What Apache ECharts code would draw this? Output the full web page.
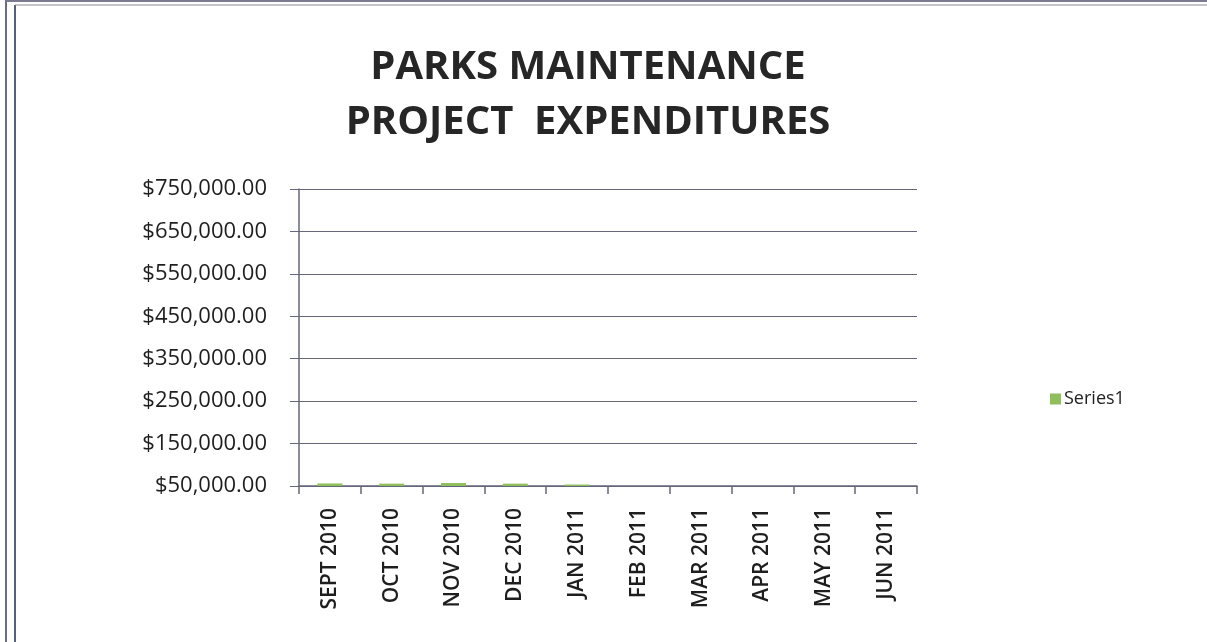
<!DOCTYPE html>
<html>
<head>
<meta charset="utf-8">
<title>Parks Maintenance Project Expenditures</title>
<script src="https://cdn.jsdelivr.net/npm/echarts@6/dist/echarts.min.js"></script>
<style>
  html, body { margin: 0; padding: 0; background: #fff; }
  #chart { width: 1207px; height: 642px; }
</style>
</head>
<body>
<div id="chart"></div>
<script>
// 月份
const months = ['SEPT 2010', 'OCT 2010', 'NOV 2010', 'DEC 2010', 'JAN 2011',
  'FEB 2011', 'MAR 2011', 'APR 2011', 'MAY 2011', 'JUN 2011'];
// 支出（只比坐标轴最小值高一点，所以只露出一条细线）
const series1 = [56000, 55500, 57000, 55500, 53500, null, null, null, null, null];
// 纵轴刻度
const yMin = 50000;
const yMax = 750000;
const yStep = 100000;

const green = '#8fbf5c';
const gridColor = '#66667a';
const font = '"Open Sans", "Noto Sans", sans-serif';

const mychart = echarts.init(document.getElementById('chart'));

const option = {
  animation: false,
  backgroundColor: '#ffffff',
  graphic: [
    // 外框（双线）
    { type: 'line', shape: { x1: 6, y1: 0, x2: 6, y2: 642 }, style: { stroke: '#6d6d80', lineWidth: 2 } },
    { type: 'line', shape: { x1: 15, y1: 5, x2: 15, y2: 642 }, style: { stroke: '#55607a', lineWidth: 2 } },
    { type: 'line', shape: { x1: 6, y1: 1, x2: 1207, y2: 1 }, style: { stroke: '#7a7a90', lineWidth: 2 } },
    { type: 'line', shape: { x1: 15, y1: 5, x2: 1207, y2: 5 }, style: { stroke: '#8a8aa0', lineWidth: 1 } },
    // 标题
    {
      type: 'text',
      x: 588,
      y: 95,
      style: {
        text: 'PARKS MAINTENANCE\nPROJECT  EXPENDITURES',
        fill: '#262626',
        font: 'bold 40px ' + font,
        textAlign: 'center',
        textVerticalAlign: 'middle',
        lineHeight: 55,
      },
    },
  ],
  legend: {
    data: ['Series1'],
    left: 1045,
    top: 385,
    itemWidth: 11,
    itemHeight: 11,
    itemGap: 4,
    icon: 'rect',
    textStyle: { color: '#222', fontSize: 18, fontFamily: font, padding: [0, 0, 0, -2] },
  },
  grid: {
    left: 299,
    right: 290,
    top: 189,
    bottom: 156,
  },
  xAxis: {
    type: 'category',
    data: months,
    axisLine: { show: true, lineStyle: { color: gridColor, width: 1.5 } },
    axisTick: { show: true, length: 8, lineStyle: { color: gridColor, width: 1.5 } },
    axisLabel: {
      rotate: 90,
      interval: 0,
      margin: 22,
      color: '#1e1e1e',
      fontSize: 21,
      fontWeight: 600,
      fontFamily: font,
    },
  },
  yAxis: {
    type: 'value',
    min: yMin,
    max: yMax,
    interval: yStep,
    axisLine: { show: true, lineStyle: { color: gridColor, width: 1.5 } },
    axisTick: { show: true, length: 9, lineStyle: { color: gridColor } },
    splitLine: { show: true, lineStyle: { color: gridColor, width: 1.2 } },
    axisLabel: {
      margin: 32,
      color: '#1e1e1e',
      fontSize: 22,
      fontFamily: font,
      formatter: (v) => '$' + v.toLocaleString('en-US', { minimumFractionDigits: 2, maximumFractionDigits: 2 }),
    },
  },
  series: [
    {
      name: 'Series1',
      type: 'bar',
      data: series1,
      barWidth: 25,
      itemStyle: { color: green },
    },
  ],
};

mychart.setOption(option);

window.addEventListener('resize', () => {
  mychart.resize();
});
</script>
</body>
</html>
